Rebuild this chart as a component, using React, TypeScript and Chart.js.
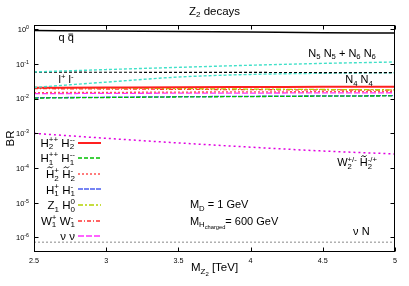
import React, { useEffect, useRef } from 'react';
import { Chart, registerables } from 'chart.js';

Chart.register(...registerables);

// ---------- data ----------
const massTeV = [2.5, 3, 3.5, 4, 4.5, 5];
const brQQ = [0.92, 0.89, 0.86, 0.83, 0.8, 0.78];
const brN5N6 = [0.059, 0.069, 0.08, 0.092, 0.104, 0.114];
const brLL = [0.058, 0.0578, 0.0575, 0.057, 0.0567, 0.0565];
const brN4N4 = [0.021, 0.03, 0.042, 0.05, 0.054, 0.056];
const brH2ppH2mm = [0.0205, 0.0209, 0.0213, 0.0216, 0.0219, 0.0222];
const brH1ppH1mm = [0.0104, 0.0108, 0.0112, 0.0115, 0.0118, 0.012];
const brH2tH2t = [0.015, 0.0152, 0.0155, 0.0157, 0.0159, 0.0161];
const brH1pH1m = [0.0106, 0.011, 0.0114, 0.0117, 0.012, 0.0122];
const brZ1H0 = [0.021, 0.0202, 0.0195, 0.0189, 0.0184, 0.018];
const brW1W1 = [0.0195, 0.019, 0.0186, 0.0182, 0.0179, 0.0176];
const brNuNu = [0.014, 0.0142, 0.0144, 0.0145, 0.0147, 0.0148];
const brW2H2 = [1.0e-3, 7.2e-4, 5.3e-4, 4.0e-4, 3.1e-4, 2.55e-4];
const brNuN = [7.3e-7, 7.3e-7, 7.3e-7, 7.3e-7, 7.3e-7, 7.3e-7];

const xTickValues = [2.5, 3, 3.5, 4, 4.5, 5];
const xTickLabels = ['2.5', '3', '3.5', '4', '4.5', '5'];
const yTickExponents = [0, -1, -2, -3, -4, -5, -6];

const X_MIN = 2.5;
const X_MAX = 5;
const Y_MIN = 3.8e-7;
const Y_MAX = 1.33;

// rich text segments: [kind, text]
// n normal, ^ sup, _ sub, __ sub of sub, s stacked "sub|sup", t tilde-accented, b bar-accented
type Seg = [string, string];

type Series = {
  name: string;
  data: number[];
  color: string;
  dash: number[];
  width: number;
  legend?: Seg[];
};

const series: Series[] = [
  { name: 'q qbar', data: brQQ, color: '#000000', dash: [], width: 1.5 },
  { name: 'N5N5+N6N6', data: brN5N6, color: '#40e0c8', dash: [3, 2], width: 1.4 },
  { name: 'l+l-', data: brLL, color: '#000000', dash: [3, 2], width: 1.2 },
  { name: 'N4N4', data: brN4N4, color: '#40e0c8', dash: [3, 2], width: 1.4 },
  { name: 'W2H2', data: brW2H2, color: '#e000e0', dash: [2, 3], width: 1.5 },
  { name: 'nuN', data: brNuN, color: '#888888', dash: [2, 2], width: 1 },
  {
    name: 'H2++H2--', data: brH2ppH2mm, color: '#ff2020', dash: [], width: 2,
    legend: [['n', 'H'], ['s', '2|++'], ['n', ' H'], ['s', '2|--']],
  },
  {
    name: 'H1++H1--', data: brH1ppH1mm, color: '#00c000', dash: [4, 2], width: 1.3,
    legend: [['n', 'H'], ['s', '1|++'], ['n', ' H'], ['s', '1|--']],
  },
  {
    name: 'H2t+H2t-', data: brH2tH2t, color: '#ff5050', dash: [2, 2], width: 1.3,
    legend: [['t', 'H'], ['s', '2|+'], ['n', ' '], ['t', 'H'], ['s', '2|-']],
  },
  {
    name: 'H1+H1-', data: brH1pH1m, color: '#4a5cf0', dash: [5, 1], width: 1.3,
    legend: [['n', 'H'], ['s', '1|+'], ['n', ' H'], ['s', '1|-']],
  },
  {
    name: 'Z1H0', data: brZ1H0, color: '#b4d200', dash: [5, 2, 2, 2], width: 1.3,
    legend: [['n', 'Z'], ['_', '1'], ['n', ' H'], ['s', '0|0']],
  },
  {
    name: 'W1+W1-', data: brW1W1, color: '#ff3030', dash: [4, 2, 1, 2], width: 1.3,
    legend: [['n', 'W'], ['s', '1|+'], ['n', ' W'], ['s', '1|-']],
  },
  {
    name: 'nunu', data: brNuNu, color: '#ff30ff', dash: [6, 2], width: 1.3,
    legend: [['n', 'ν ν']],
  },
];

type Note = { segs: Seg[]; x: number; y: number };
// annotation positions given in data coordinates
const notes: Note[] = [
  { segs: [['n', 'q '], ['b', 'q']], x: 2.67, y: 0.45 },
  { segs: [['n', 'N'], ['_', '5'], ['n', ' N'], ['_', '5'], ['n', ' + N'], ['_', '6'], ['n', ' N'], ['_', '6']], x: 4.4, y: 0.16 },
  { segs: [['n', 'l'], ['^', '+'], ['n', ' l'], ['^', '-']], x: 2.67, y: 0.0277 },
  { segs: [['n', 'N'], ['_', '4'], ['n', ' N'], ['_', '4']], x: 4.655, y: 0.028 },
  { segs: [['n', 'W'], ['s', '2|+/-'], ['n', ' '], ['t', 'H'], ['s', '2|-/+']], x: 4.6, y: 1.12e-4 },
  { segs: [['n', 'ν N']], x: 4.71, y: 1.15e-6 },
  { segs: [['n', 'M'], ['_', 'D'], ['n', ' = 1 GeV']], x: 3.58, y: 7.0e-6 },
  { segs: [['n', 'M'], ['_', 'H'], ['__', 'charged'], ['n', '= 600 GeV']], x: 3.58, y: 2.3e-6 },
];

const FONT = '"Liberation Sans", Arial, Helvetica, sans-serif';

function drawRich(
  ctx: CanvasRenderingContext2D,
  segs: Seg[],
  x: number,
  y: number,
  size: number,
  align: 'left' | 'right' | 'center',
  color = '#000',
) {
  const small = size * 0.7;
  const tiny = size * 0.52;
  const setF = (s: number) => {
    ctx.font = `${s}px ${FONT}`;
  };
  const widths = segs.map(([k, t]) => {
    if (k === 'n' || k === 'b' || k === 't') {
      setF(size);
      return ctx.measureText(t).width;
    }
    if (k === '^' || k === '_') {
      setF(small);
      return ctx.measureText(t).width;
    }
    if (k === '__') {
      setF(tiny);
      return ctx.measureText(t).width;
    }
    const [a, b] = t.split('|');
    setF(small);
    return Math.max(ctx.measureText(a).width, ctx.measureText(b).width);
  });
  const total = widths.reduce((s, w) => s + w, 0);
  let cx = align === 'right' ? x - total : align === 'center' ? x - total / 2 : x;
  ctx.save();
  ctx.fillStyle = color;
  ctx.strokeStyle = color;
  ctx.textAlign = 'left';
  ctx.textBaseline = 'alphabetic';
  segs.forEach(([k, t], i) => {
    const w = widths[i];
    if (k === 'n' || k === 'b' || k === 't') {
      setF(size);
      ctx.fillText(t, cx, y);
      if (k === 'b') {
        ctx.lineWidth = 0.9;
        ctx.beginPath();
        ctx.moveTo(cx + w * 0.12, y - size * 0.66);
        ctx.lineTo(cx + w * 0.88, y - size * 0.66);
        ctx.stroke();
      }
      if (k === 't') {
        const x0 = cx + w * 0.18;
        const x1 = cx + w * 0.82;
        const ty = y - size * 0.92;
        const q = (x1 - x0) / 4;
        ctx.lineWidth = 0.9;
        ctx.beginPath();
        ctx.moveTo(x0, ty + 0.8);
        ctx.quadraticCurveTo(x0 + q, ty - 1.6, x0 + 2 * q, ty);
        ctx.quadraticCurveTo(x0 + 3 * q, ty + 1.6, x1, ty - 0.8);
        ctx.stroke();
      }
    } else if (k === '^') {
      setF(small);
      ctx.fillText(t, cx, y - size * 0.4);
    } else if (k === '_') {
      setF(small);
      ctx.fillText(t, cx, y + size * 0.22);
    } else if (k === '__') {
      setF(tiny);
      ctx.fillText(t, cx, y + size * 0.42);
    } else if (k === 's') {
      const [a, b] = t.split('|');
      setF(small);
      ctx.fillText(a, cx, y + size * 0.24);
      ctx.fillText(b, cx, y - size * 0.42);
    }
    cx += w;
  });
  ctx.restore();
}

const decorPlugin = {
  id: 'gnuplotDecor',
  afterDraw(chart: any) {
    const ctx: CanvasRenderingContext2D = chart.ctx;
    const ca = chart.chartArea;
    const xs = chart.scales.x;
    const ys = chart.scales.y;
    const L = Math.round(ca.left) + 0.5;
    const R = Math.round(ca.right) - 0.5;
    const T = Math.round(ca.top) + 0.5;
    const B = Math.round(ca.bottom) - 0.5;
    ctx.save();
    ctx.strokeStyle = '#000';
    ctx.lineWidth = 1;
    ctx.setLineDash([]);
    ctx.strokeRect(L, T, R - L, B - T);
    const tl = 4;
    ctx.beginPath();
    xTickValues.forEach((v) => {
      const px = Math.round(xs.getPixelForValue(v)) + 0.5;
      ctx.moveTo(px, B);
      ctx.lineTo(px, B - tl);
      ctx.moveTo(px, T);
      ctx.lineTo(px, T + tl);
    });
    yTickExponents.forEach((e) => {
      const py = Math.round(ys.getPixelForValue(Math.pow(10, e))) + 0.5;
      ctx.moveTo(L, py);
      ctx.lineTo(L + tl, py);
      ctx.moveTo(R, py);
      ctx.lineTo(R - tl, py);
    });
    ctx.stroke();

    // tick labels
    xTickValues.forEach((v, i) => {
      const px = xs.getPixelForValue(v);
      drawRich(ctx, [['n', xTickLabels[i]]], px, ca.bottom + 11, 7.2, 'center');
    });
    yTickExponents.forEach((e) => {
      const py = ys.getPixelForValue(Math.pow(10, e));
      drawRich(ctx, [['n', '10'], ['^', String(e)]], ca.left - 5, py + 2.8, 7.5, 'right');
    });

    // titles
    drawRich(ctx, [['n', 'Z'], ['_', '2'], ['n', ' decays']], (ca.left + ca.right) / 2, 14.5, 11.5, 'center');
    drawRich(ctx, [['n', 'M'], ['_', 'Z'], ['__', '2'], ['n', ' [TeV]']], (ca.left + ca.right) / 2, ca.bottom + 19, 11.5, 'center');
    ctx.save();
    ctx.translate(14, (ca.top + ca.bottom) / 2);
    ctx.rotate(-Math.PI / 2);
    drawRich(ctx, [['n', 'BR']], 0, 0, 11.5, 'center');
    ctx.restore();

    // annotations
    notes.forEach((n) => {
      drawRich(ctx, n.segs, xs.getPixelForValue(n.x), ys.getPixelForValue(n.y), 11, 'left');
    });

    // key
    const keyTop = 142.5;
    const keyStep = 15.6;
    let row = 0;
    series.forEach((s) => {
      if (!s.legend) return;
      const cy = keyTop + row * keyStep;
      drawRich(ctx, s.legend, 75, cy + 4.2, 11.5, 'right');
      ctx.save();
      ctx.strokeStyle = s.color;
      ctx.lineWidth = Math.max(1.5, s.width);
      ctx.setLineDash(s.dash);
      ctx.beginPath();
      ctx.moveTo(78, Math.round(cy));
      ctx.lineTo(101, Math.round(cy));
      ctx.stroke();
      ctx.restore();
      row += 1;
    });
    ctx.restore();
  },
};

export default function App() {
  const canvasRef = useRef<HTMLCanvasElement | null>(null);

  useEffect(() => {
    const canvas = canvasRef.current;
    if (!canvas) return;
    const chart = new Chart(canvas, {
      type: 'line',
      data: {
        datasets: series.map((s) => ({
          label: s.name,
          data: massTeV.map((m, i) => ({ x: m, y: s.data[i] })),
          borderColor: s.color,
          backgroundColor: s.color,
          borderWidth: s.width,
          borderDash: s.dash,
          pointRadius: 0,
          fill: false,
          cubicInterpolationMode: 'monotone' as const,
        })),
      },
      options: {
        animation: false,
        responsive: false,
        maintainAspectRatio: false,
        layout: { padding: { left: 34, right: 14, top: 25, bottom: 34 } },
        plugins: {
          legend: { display: false },
          title: { display: false },
          tooltip: { enabled: false },
        },
        scales: {
          x: { type: 'linear', min: X_MIN, max: X_MAX, display: false },
          y: { type: 'logarithmic', min: Y_MIN, max: Y_MAX, display: false },
        },
      },
      plugins: [decorPlugin],
    });
    return () => chart.destroy();
  }, []);

  return (
    <div style={{ position: 'absolute', left: 0, top: 0, width: 409, height: 286, background: '#fff' }}>
      <canvas ref={canvasRef} width={409} height={286} style={{ display: 'block' }} />
    </div>
  );
}
